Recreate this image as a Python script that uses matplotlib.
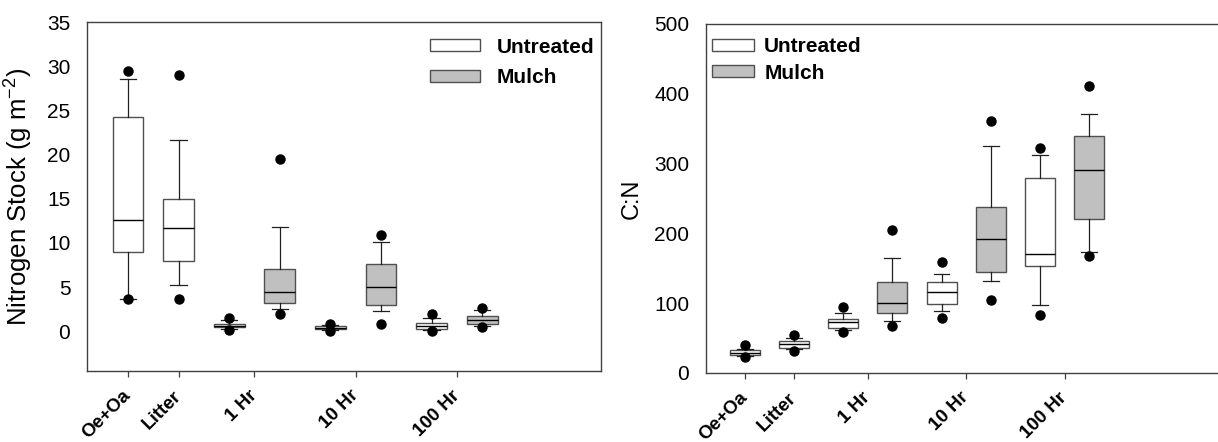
import matplotlib.pyplot as plt
from matplotlib.patches import Patch

plt.rcParams['font.family'] = ['Liberation Sans', 'DejaVu Sans']
plt.rcParams['mathtext.default'] = 'regular'

# box order: Oe+Oa, Litter, 1Hr U, 1Hr M, 10Hr U, 10Hr M, 100Hr U, 100Hr M
treatment = ['U', 'U', 'U', 'M', 'U', 'M', 'U', 'M']
tick_pos = [1, 2, 3.5, 5.5, 7.5]
tick_labels = ['Oe+Oa', 'Litter', '1 Hr', '10 Hr', '100 Hr']

# nitrogen stock (g m-2)
n_q1 = [9.0, 8.0, 0.45, 3.15, 0.2, 3.0, 0.25, 0.8]
n_med = [12.55, 11.65, 0.62, 4.4, 0.4, 5.0, 0.6, 1.28]
n_q3 = [24.2, 15.0, 0.85, 7.08, 0.55, 7.65, 0.92, 1.7]
n_lo = [3.6, 5.2, 0.22, 2.5, 0.1, 2.3, 0.1, 0.55]
n_hi = [28.6, 21.7, 1.3, 11.76, 0.7, 10.1, 1.47, 2.45]
n_fliers = [[29.5, 3.6], [29.0, 3.6], [1.5, 0.12], [19.45, 2.0],
            [0.85, 0.02], [10.85, 0.8], [2.0, 0.0], [2.6, 0.5]]

# C:N ratio
cn_q1 = [26.5, 36.0, 64.5, 86.0, 99.0, 144.0, 153.0, 220.0]
cn_med = [29.0, 41.0, 73.0, 100.0, 116.0, 191.5, 170.0, 290.5]
cn_q3 = [33.0, 46.0, 78.0, 130.0, 130.0, 238.5, 280.0, 339.0]
cn_lo = [24.5, 34.5, 62.0, 75.0, 89.5, 132.0, 98.0, 174.0]
cn_hi = [35.0, 50.0, 85.5, 164.5, 141.5, 324.5, 312.0, 370.5]
cn_fliers = [[39.5, 22.5], [54.0, 32.0], [94.0, 58.5], [204.5, 67.0],
             [159.5, 78.5], [361.5, 105.0], [322.5, 82.5], [411.0, 167.5]]

colors = {'U': 'white', 'M': '#c0c0c0'}


def make_stats(q1, med, q3, lo, hi, fliers):
    return [dict(q1=a, med=b, q3=c, whislo=d, whishi=e, fliers=f)
            for a, b, c, d, e, f in zip(q1, med, q3, lo, hi, fliers)]


def draw(ax, stats, xlim, ylim, yticks, ylabel, ylabel_size,
         leg_anchor, leg_spacing, leg_pad, leg_len):
    bp = ax.bxp(stats, positions=range(1, 9), widths=0.61, capwidths=0.32,
                patch_artist=True, manage_ticks=False,
                boxprops=dict(edgecolor='#505050', linewidth=1.0),
                medianprops=dict(color='black', linewidth=1.0),
                whiskerprops=dict(color='#202020', linewidth=0.9),
                capprops=dict(color='#202020', linewidth=0.9),
                flierprops=dict(marker='o', markerfacecolor='black',
                                markeredgecolor='black', markersize=6.5))
    for box, t in zip(bp['boxes'], treatment):
        box.set_facecolor(colors[t])
    ax.set_xlim(*xlim)
    ax.set_ylim(*ylim)
    ax.set_yticks(yticks)
    ax.set_xticks(tick_pos)
    ax.set_xticklabels(tick_labels, rotation=45, ha='right', va='center',
                       rotation_mode='anchor', fontweight='bold', fontsize=13.5)
    ax.tick_params(axis='y', length=0, pad=12, labelsize=15)
    ax.tick_params(axis='x', length=4, width=0.9, color='#404040', pad=12)
    for s in ax.spines.values():
        s.set_color('#404040')
        s.set_linewidth(1.0)
    ax.set_ylabel(ylabel, fontsize=ylabel_size)
    handles = [Patch(facecolor='white', edgecolor='#505050', label='Untreated'),
               Patch(facecolor='#c0c0c0', edgecolor='#505050', label='Mulch')]
    ax.legend(handles=handles, loc='upper left', bbox_to_anchor=leg_anchor,
              frameon=False, borderpad=0, borderaxespad=0,
              handlelength=leg_len, handleheight=0.5, handletextpad=leg_pad,
              labelspacing=leg_spacing, prop=dict(weight='bold', size=15))


fig = plt.figure(figsize=(12.18, 4.42), dpi=100)
ax1 = fig.add_axes([87 / 1218, 71 / 442, 514 / 1218, 349 / 442])
ax2 = fig.add_axes([706 / 1218, 69 / 442, 512 / 1218, 349 / 442])

draw(ax1, make_stats(n_q1, n_med, n_q3, n_lo, n_hi, n_fliers),
     (0.19, 10.35), (-4.5, 35), range(0, 36, 5),
     'Nitrogen Stock (g m$^{-2}$)', 18.5, (0.667, 0.955), 0.55, 0.8, 2.4)
draw(ax2, make_stats(cn_q1, cn_med, cn_q3, cn_lo, cn_hi, cn_fliers),
     (0.213, 10.62), (0, 500), range(0, 501, 100),
     'C:N', 17, (0.012, 0.962), 0.35, 0.5, 2.0)
ax2.spines['right'].set_visible(False)
ax1.yaxis.set_label_coords(-0.101, 0.5)
ax2.yaxis.set_label_coords(-0.123, 0.5)

fig.savefig('out.png', dpi=100)
